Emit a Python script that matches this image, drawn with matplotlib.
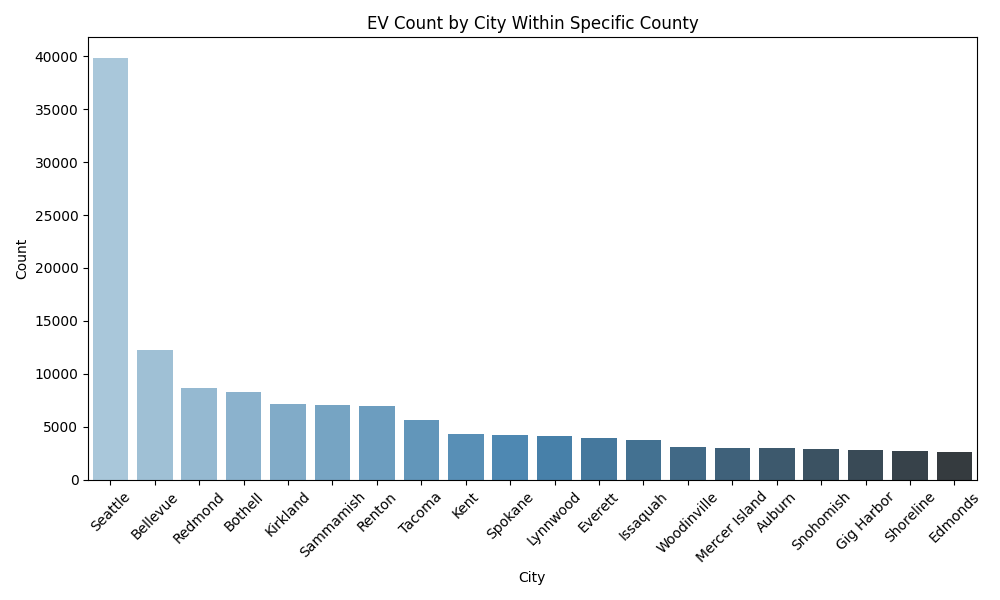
import numpy as np
import matplotlib.pyplot as plt
import seaborn as sns

cities = ["Seattle", "Bellevue", "Redmond", "Bothell", "Kirkland", "Sammamish",
          "Renton", "Tacoma", "Kent", "Spokane", "Lynnwood", "Everett", "Issaquah",
          "Woodinville", "Mercer Island", "Auburn", "Snohomish", "Gig Harbor",
          "Shoreline", "Edmonds"]
counts = [39800, 12230, 8660, 8280, 7150, 7060, 6960, 5650, 4330, 4240,
          4140, 3950, 3770, 3110, 3010, 3000, 2920, 2820, 2730, 2640]

plt.figure(figsize=(10, 6))
sns.barplot(x=cities, y=counts, hue=cities, palette="Blues_d", legend=False)
plt.title("EV Count by City Within Specific County")
plt.xlabel("City")
plt.ylabel("Count")
plt.xticks(rotation=45)
plt.tight_layout()
plt.savefig("out.png", dpi=100)
